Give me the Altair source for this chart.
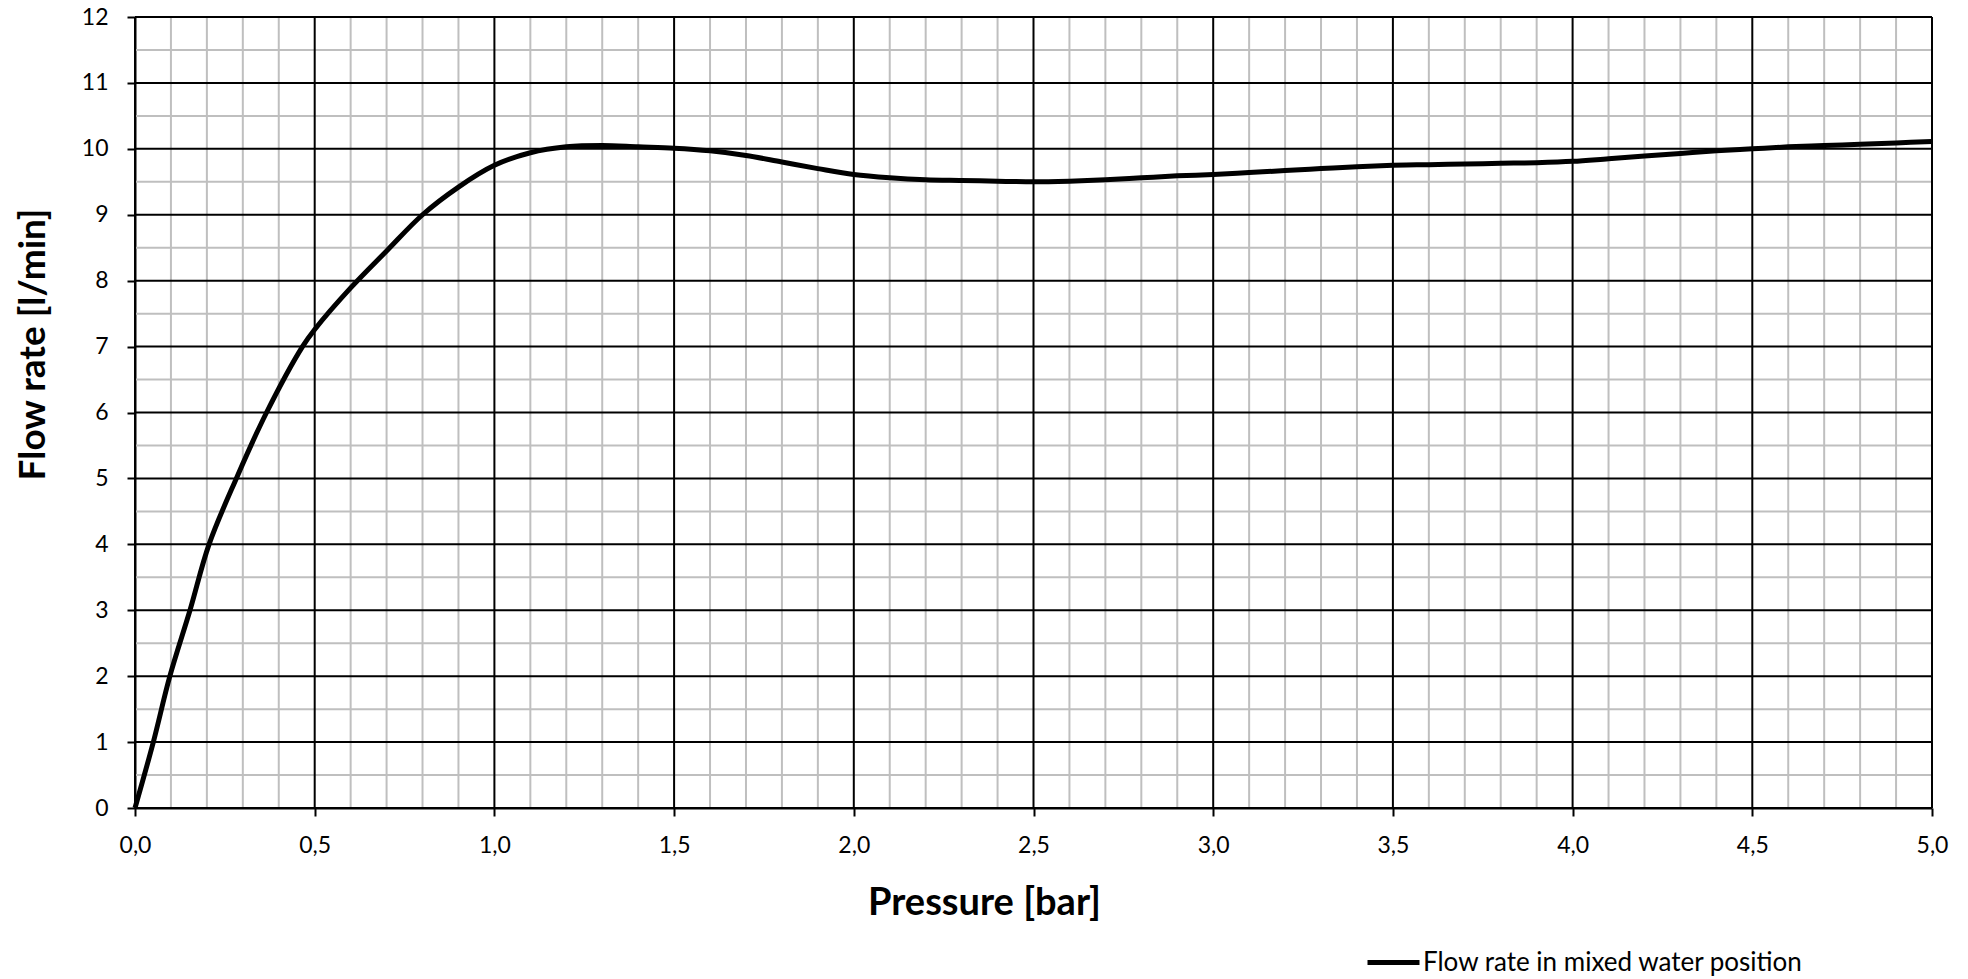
import altair as alt
import pandas as pd

# Data
pressure = [0.0, 0.051, 0.097, 0.153, 0.206, 0.282, 0.366, 0.466, 0.5, 0.6, 0.7, 0.8, 0.9,
            1.0, 1.1, 1.2, 1.3, 1.4, 1.5, 1.6, 1.7, 1.8, 1.9, 2.0, 2.1, 2.2, 2.3, 2.4, 2.5,
            2.6, 2.7, 2.8, 2.9, 3.0, 3.1, 3.2, 3.3, 3.4, 3.5, 3.6, 3.7, 3.8, 3.9, 4.0, 4.1,
            4.2, 4.3, 4.4, 4.5, 4.6, 4.7, 4.8, 4.9, 5.0]
flow = [0.0, 1.0, 2.0, 3.0, 4.0, 5.0, 6.0, 7.0, 7.26, 7.89, 8.45, 9.0, 9.42,
        9.75, 9.94, 10.03, 10.05, 10.03, 10.01, 9.97, 9.90, 9.80, 9.70, 9.61, 9.56, 9.53, 9.52, 9.51, 9.50,
        9.51, 9.53, 9.56, 9.59, 9.61, 9.64, 9.67, 9.70, 9.73, 9.75, 9.76, 9.77, 9.78, 9.79, 9.81, 9.85,
        9.89, 9.93, 9.97, 10.00, 10.03, 10.05, 10.07, 10.09, 10.11]
series_name = "Flow rate in mixed water position"

x_major = [0.0, 0.5, 1.0, 1.5, 2.0, 2.5, 3.0, 3.5, 4.0, 4.5, 5.0]
x_minor = [round(i / 10, 1) for i in range(51) if i % 5 != 0]
y_major = list(range(0, 13))
y_minor = [i + 0.5 for i in range(12)]

FONT = "Lato"
X_DOMAIN = [0, 5]
Y_DOMAIN = [0, 12]

x_axis = alt.Axis(
    title="Pressure [bar]", values=x_major, grid=False, labelFlush=False,
    labelExpr="replace(format(datum.value, '.1f'), '.', ',')",
    labelFontSize=23, labelColor="black", labelPadding=18,
    tickSize=8, tickWidth=2, tickColor="black",
    domainColor="black", domainWidth=2,
    titleFontSize=38, titleFontWeight="bold", titleColor="black",
    titleX=849, titleY=106, titleBaseline="alphabetic", titleAlign="center",
)
y_axis = alt.Axis(
    title="Flow rate [l/min]", values=y_major, grid=False, format="d", labelFlush=False,
    labelFontSize=23, labelColor="black", labelPadding=19,
    tickSize=8, tickWidth=2, tickColor="black",
    domainColor="black", domainWidth=2,
    titleFontSize=37, titleFontWeight="bold", titleColor="black",
    titleX=-91, titleY=327, titleBaseline="alphabetic", titleAlign="center", titleAngle=270,
)

xs = alt.Scale(domain=X_DOMAIN, nice=False, zero=False)
ys = alt.Scale(domain=Y_DOMAIN, nice=False, zero=False)

minor_x = alt.Chart(pd.DataFrame({"v": x_minor})).mark_rule(color="#bfbfbf", strokeWidth=2).encode(
    x=alt.X("v:Q", scale=xs, axis=x_axis))
minor_y = alt.Chart(pd.DataFrame({"v": y_minor})).mark_rule(color="#bfbfbf", strokeWidth=2).encode(
    y=alt.Y("v:Q", scale=ys, axis=y_axis))
major_x = alt.Chart(pd.DataFrame({"v": x_major})).mark_rule(color="black", strokeWidth=2).encode(
    x=alt.X("v:Q", scale=xs, axis=x_axis))
major_y = alt.Chart(pd.DataFrame({"v": y_major})).mark_rule(color="black", strokeWidth=2).encode(
    y=alt.Y("v:Q", scale=ys, axis=y_axis))

df = pd.DataFrame({"p": pressure, "q": flow, "s": [series_name] * len(pressure)})
line = alt.Chart(df).mark_line(interpolate="catmull-rom", strokeWidth=5).encode(
    x=alt.X("p:Q", scale=xs, axis=x_axis),
    y=alt.Y("q:Q", scale=ys, axis=y_axis),
    color=alt.Color("s:N", scale=alt.Scale(range=["black"]),
                    legend=alt.Legend(title=None, orient="none", legendX=1230, legendY=917,
                                      symbolType="stroke", symbolSize=2704, symbolStrokeWidth=5,
                                      labelFontSize=26, labelColor="black", labelOffset=1,
                                      padding=0, labelLimit=700)),
)

chart = alt.layer(minor_x, minor_y, major_x, major_y, line).properties(
    width=1797, height=791,
    autosize=alt.AutoSizeParams(type="none"),
    padding={"left": 127, "top": 9, "right": 22, "bottom": 168},
).configure(font=FONT).configure_view(stroke=None)

chart.save("out.html", embed_options={"renderer": "svg", "actions": False})
